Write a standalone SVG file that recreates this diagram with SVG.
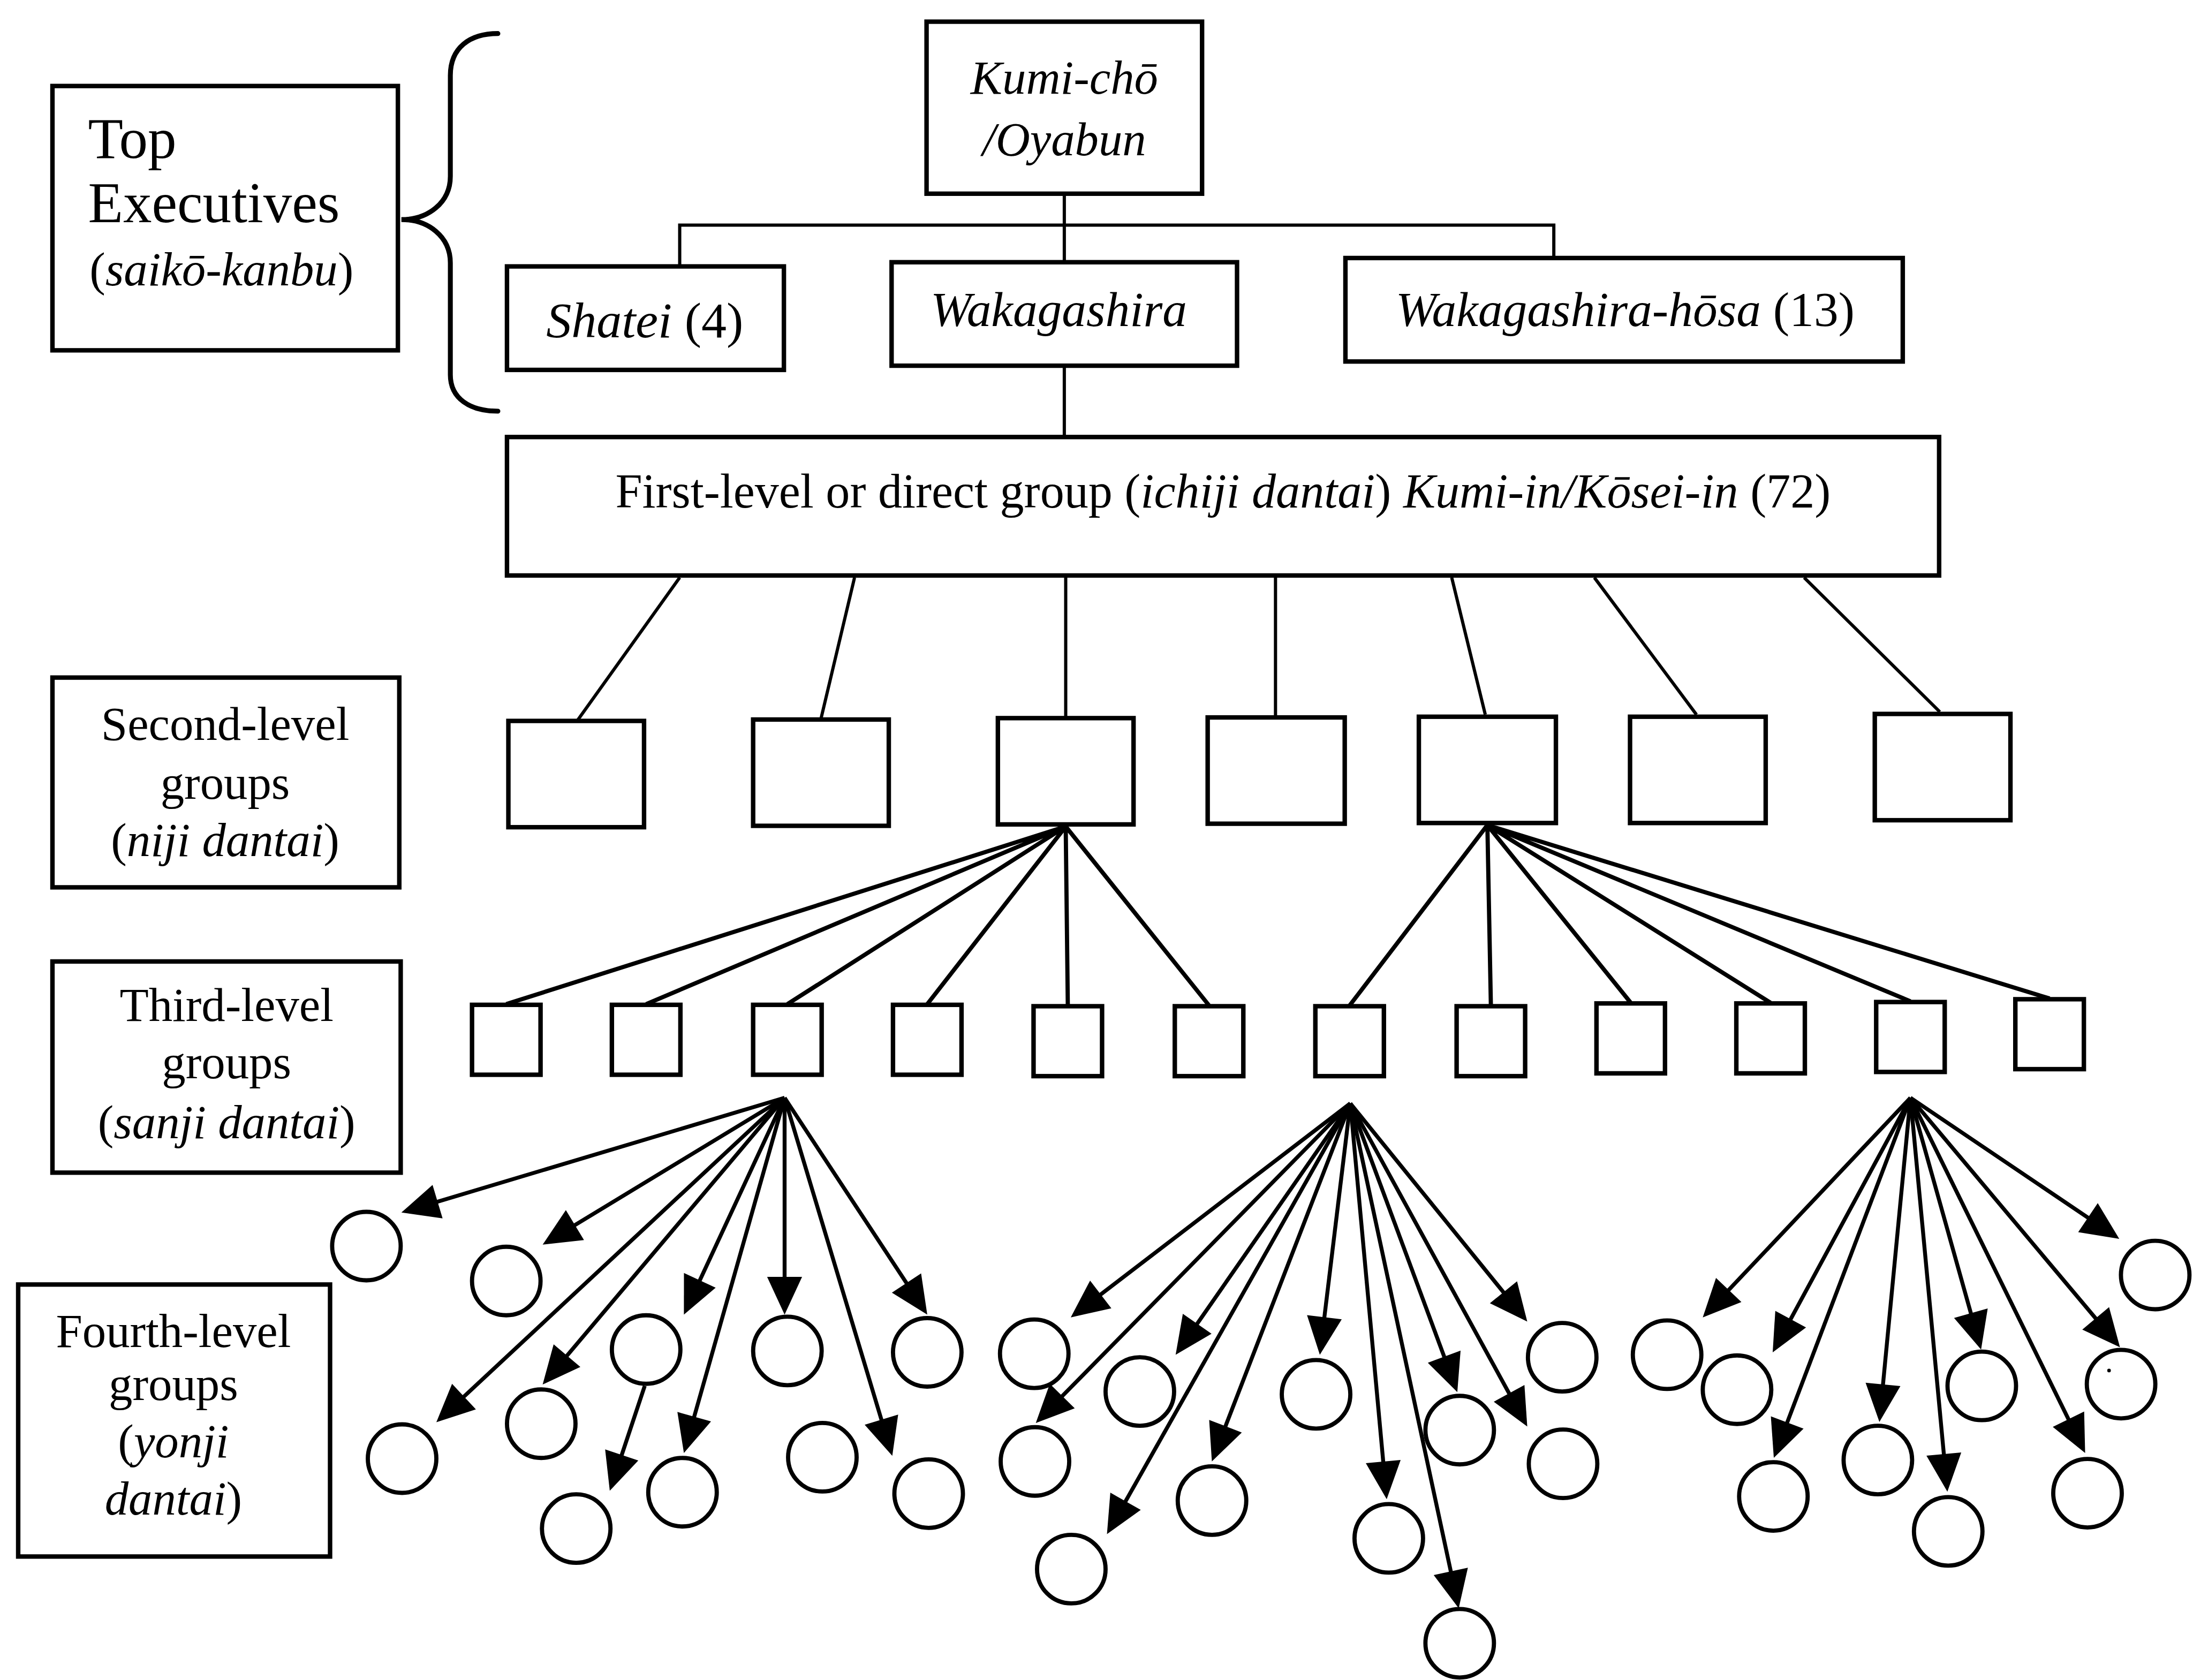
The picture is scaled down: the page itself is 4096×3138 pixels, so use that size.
<svg xmlns="http://www.w3.org/2000/svg" width="4096" height="3138" viewBox="0 0 4096 3138">
<defs>
<marker id="ah" markerUnits="userSpaceOnUse" markerWidth="28" markerHeight="26" refX="27" refY="12.5" orient="auto" overflow="visible">
<path d="M0,0 L27,12.5 L0,25 z" fill="#000"/>
</marker>
<style>
.box{fill:#fff;stroke:#000;stroke-width:3.2}
.c{fill:#fff;stroke:#000;stroke-width:3}
.ln{stroke:#000;stroke-width:2.3;fill:none}
.lt{stroke:#000;stroke-width:3;fill:none}
.ar{stroke:#000;stroke-width:2.8;fill:none;marker-end:url(#ah);stroke-dasharray:96 100}
.brace{stroke:#000;stroke-width:3.5;fill:none;stroke-linecap:round}
text{font-family:"Liberation Serif","Times New Roman",serif;fill:#000}
.i{font-style:italic}
.m{text-anchor:middle}
</style>
</defs>
<rect width="4096" height="3138" fill="#fff"/>
<g transform="scale(2.6122)">

<g id="label-top-executives">
<rect class="box" x="37.5" y="61.5" width="247" height="189"/>
<text x="63" y="113" font-size="41">Top</text>
<text x="63" y="159" font-size="41">Executives</text>
<text x="64" y="204" font-size="34">(<tspan class="i">saikō-kanbu</tspan>)</text>
</g>
<g id="brace">
<path class="brace" d="M356,24 C336,24 322,34 322,54 L322,126 C322,145 306,157 287,157 C306,157 322,169 322,188 L322,268 C322,285 336,294 356,294"/>
</g>

<g id="kumicho">
<rect class="box" x="662.5" y="15.5" width="197" height="123"/>
<text class="i m" x="761" y="67" font-size="34">Kumi-chō</text>
<text class="i m" x="761" y="111" font-size="34">/Oyabun</text>
</g>
<g id="shatei">
<rect class="box" x="362.5" y="190.5" width="198" height="74"/>
<text class="m" x="461" y="241" font-size="36"><tspan class="i">Shatei</tspan> (4)</text>
</g>
<g id="wakagashira">
<rect class="box" x="637.5" y="187.5" width="247" height="74"/>
<text class="i m" x="757" y="233" font-size="35">Wakagashira</text>
</g>
<g id="wakagashira-hosa">
<rect class="box" x="962" y="184.5" width="398.5" height="74"/>
<text class="m" x="1162" y="233" font-size="35"><tspan class="i">Wakagashira-hōsa</tspan> (13)</text>
</g>
<g id="first-level">
<rect class="box" x="362.5" y="312.5" width="1024" height="99"/>
<text class="m" x="874.5" y="363" font-size="34.5">First-level or direct group (<tspan class="i">ichiji dantai</tspan>) <tspan class="i">Kumi-in/Kōsei-in</tspan> (72)</text>
</g>

<g id="label-second-level">
<rect class="box" x="37.5" y="484.5" width="248" height="150"/>
<text class="m" x="161" y="529" font-size="34">Second-level</text>
<text class="m" x="161" y="571" font-size="34">groups</text>
<text class="m" x="161" y="612" font-size="34">(<tspan class="i">niji dantai</tspan>)</text>
</g>
<g id="label-third-level">
<rect class="box" x="37.5" y="687.5" width="249" height="151"/>
<text class="m" x="162" y="730" font-size="34">Third-level</text>
<text class="m" x="162" y="771" font-size="34">groups</text>
<text class="m" x="162" y="814" font-size="34">(<tspan class="i">sanji dantai</tspan>)</text>
</g>
<g id="label-fourth-level">
<rect class="box" x="13" y="918.5" width="223" height="194.5"/>
<text class="m" x="124" y="963" font-size="34">Fourth-level</text>
<text class="m" x="124" y="1001" font-size="34">groups</text>
<text class="m" x="124" y="1042" font-size="34">(<tspan class="i">yonji</tspan></text>
<text class="m" x="124" y="1083" font-size="34"><tspan class="i">dantai</tspan>)</text>
</g>

<g id="second-level-groups">
<rect id="s1" class="box" x="363.5" y="515.5" width="97" height="76"/>
<rect id="s2" class="box" x="538.5" y="514.5" width="97" height="76"/>
<rect id="s3" class="box" x="713.5" y="513.5" width="97" height="76"/>
<rect id="s4" class="box" x="863.5" y="513" width="98" height="76"/>
<rect id="s5" class="box" x="1014.5" y="512.5" width="98" height="76"/>
<rect id="s6" class="box" x="1165.5" y="512.5" width="97" height="76"/>
<rect id="s7" class="box" x="1340.5" y="510.5" width="97" height="76"/>
</g>

<g id="third-level-groups">
<rect id="t1" class="box" x="337.5" y="718.5" width="49" height="50"/>
<rect id="t2" class="box" x="437.5" y="718.5" width="49" height="50"/>
<rect id="t3" class="box" x="538.5" y="718.5" width="49" height="50"/>
<rect id="t4" class="box" x="638.5" y="718.5" width="49" height="50"/>
<rect id="t5" class="box" x="739" y="719.5" width="49" height="50"/>
<rect id="t6" class="box" x="840" y="719.5" width="49" height="50"/>
<rect id="t7" class="box" x="940.5" y="719.5" width="49" height="50"/>
<rect id="t8" class="box" x="1041.5" y="719.5" width="49" height="50"/>
<rect id="t9" class="box" x="1141.5" y="717.5" width="49" height="50"/>
<rect id="t10" class="box" x="1241.5" y="717.5" width="49" height="50"/>
<rect id="t11" class="box" x="1341.5" y="716.5" width="49" height="50"/>
<rect id="t12" class="box" x="1441" y="714.5" width="49" height="50"/>
</g>

<g id="fourth-level-groups">
<circle class="c" cx="262" cy="891" r="24.5"/>
<circle class="c" cx="362" cy="916" r="24.5"/>
<circle class="c" cx="462" cy="965" r="24.5"/>
<circle class="c" cx="563" cy="966" r="24.5"/>
<circle class="c" cx="663" cy="967" r="24.5"/>
<circle class="c" cx="287.5" cy="1043" r="24.5"/>
<circle class="c" cx="387" cy="1018" r="24.5"/>
<circle class="c" cx="488" cy="1067" r="24.5"/>
<circle class="c" cx="412" cy="1093" r="24.5"/>
<circle class="c" cx="588" cy="1042" r="24.5"/>
<circle class="c" cx="664" cy="1068" r="24.5"/>

<circle class="c" cx="739.5" cy="968" r="24.5"/>
<circle class="c" cx="815" cy="995" r="24.5"/>
<circle class="c" cx="740" cy="1045" r="24.5"/>
<circle class="c" cx="766" cy="1122" r="24.5"/>
<circle class="c" cx="866.6" cy="1073" r="24.5"/>
<circle class="c" cx="941" cy="997" r="24.5"/>
<circle class="c" cx="993" cy="1100" r="24.5"/>
<circle class="c" cx="1043.7" cy="1175" r="24.5"/>
<circle class="c" cx="1043.7" cy="1022.6" r="24.5"/>
<circle class="c" cx="1117" cy="970.5" r="24.5"/>
<circle class="c" cx="1117.6" cy="1046.7" r="24.5"/>

<circle class="c" cx="1192" cy="968.7" r="24.5"/>
<circle class="c" cx="1242" cy="993.7" r="24.5"/>
<circle class="c" cx="1268" cy="1070" r="24.5"/>
<circle class="c" cx="1342.7" cy="1044" r="24.5"/>
<circle class="c" cx="1393" cy="1095" r="24.5"/>
<circle class="c" cx="1417" cy="991" r="24.5"/>
<circle class="c" cx="1516.6" cy="989.7" r="24.5"/>
<circle class="c" cx="1492.6" cy="1067.7" r="24.5"/>
<circle class="c" cx="1541" cy="911.7" r="24.5"/>
<circle cx="1508" cy="980" r="1.3" fill="#000"/>
</g>

<g id="connectors">
<path class="ln" d="M761,140 V187 M486,190 V161 H1111 V184"/>
<path class="ln" d="M761,263 V312"/>
<path class="ln" d="M486,413 L413,515 M611,413 L587,514 M762,413 V513 M912,413 V512 M1038,413 L1062,511 M1140,413 L1213,511 M1290,413 L1387,509"/>
<path class="lt" d="M762,591 L362,718 M762,591 L462,718 M762,591 L563,718 M762,591 L663,718 M762,591 L763.5,719 M762,591 L864.5,719"/>
<path class="lt" d="M1063.5,590 L965,719 M1063.5,590 L1066,719 M1063.5,590 L1166,717 M1063.5,590 L1266,717 M1063.5,590 L1366,716 M1063.5,590 L1465.5,714"/>

<path class="ar" pathLength="100" d="M561,785 L287,867"/>
<path class="ar" pathLength="100" d="M561,785 L388,890"/>
<path class="ar" pathLength="100" d="M561,785 L312,1017"/>
<path class="ar" pathLength="100" d="M561,785 L388,990"/>
<path class="ar" pathLength="100" d="M561,785 L489,940"/>
<path class="ar" pathLength="100" d="M561,785 L561,940"/>
<path class="ar" pathLength="100" d="M561,785 L489,1039"/>
<path class="ar" pathLength="100" d="M561,785 L663,940"/>
<path class="ar" pathLength="100" d="M561,785 L638,1041"/>
<path class="ar" pathLength="100" d="M461,991 L436,1066"/>

<path class="ar" pathLength="100" d="M965.5,789 L765.6,942"/>
<path class="ar" pathLength="100" d="M965.5,789 L740.6,1017.5"/>
<path class="ar" pathLength="100" d="M965.5,789 L840.6,968.7"/>
<path class="ar" pathLength="100" d="M965.5,789 L791.5,1097"/>
<path class="ar" pathLength="100" d="M965.5,789 L866.5,1045"/>
<path class="ar" pathLength="100" d="M965.5,789 L943.7,968.7"/>
<path class="ar" pathLength="100" d="M965.5,789 L991.5,1072"/>
<path class="ar" pathLength="100" d="M965.5,789 L1043,1150"/>
<path class="ar" pathLength="100" d="M965.5,789 L1042,995.4"/>
<path class="ar" pathLength="100" d="M965.5,789 L1092,1020"/>
<path class="ar" pathLength="100" d="M965.5,789 L1092,945"/>

<path class="ar" pathLength="100" d="M1366,785 L1217.5,942"/>
<path class="ar" pathLength="100" d="M1366,785 L1267.5,967"/>
<path class="ar" pathLength="100" d="M1366,785 L1268.3,1042.4"/>
<path class="ar" pathLength="100" d="M1366,785 L1343.8,1016.8"/>
<path class="ar" pathLength="100" d="M1366,785 L1392.4,1066.6"/>
<path class="ar" pathLength="100" d="M1366,785 L1416.5,965"/>
<path class="ar" pathLength="100" d="M1366,785 L1490.9,1039"/>
<path class="ar" pathLength="100" d="M1366,785 L1515.8,963.4"/>
<path class="ar" pathLength="100" d="M1366,785 L1515.3,885.8"/>
</g>
</g>
</svg>
